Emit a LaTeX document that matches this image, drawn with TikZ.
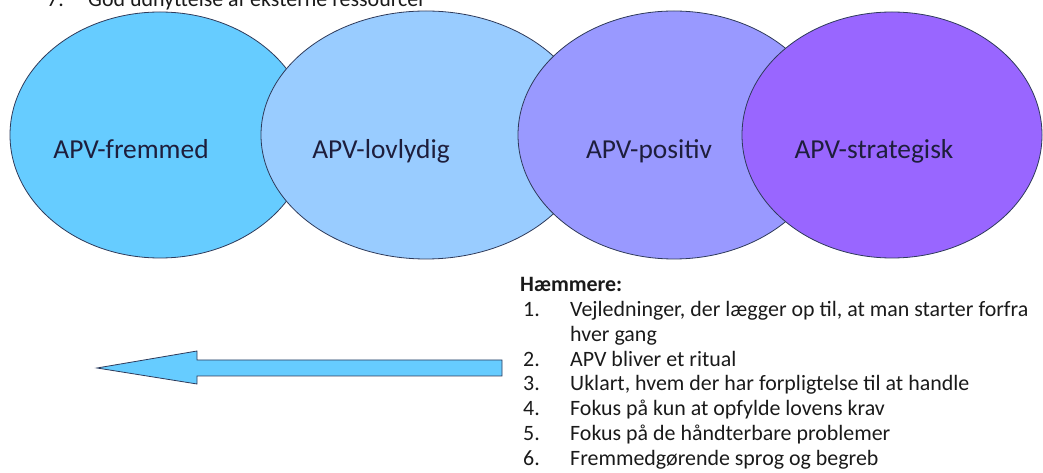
\documentclass[tikz,border=0pt]{standalone}
\usepackage{fontspec}
\setmainfont{Carlito}
\usetikzlibrary{shapes.geometric}
\definecolor{c1}{HTML}{66CCFF}
\definecolor{c2}{HTML}{99CCFF}
\definecolor{c3}{HTML}{9999FF}
\definecolor{c4}{HTML}{9966FF}
\definecolor{edgecol}{HTML}{2E3A5A}
\definecolor{lbltext}{HTML}{1E1E3C}
\definecolor{listtext}{HTML}{1A1A1A}
\begin{document}
\begin{tikzpicture}[x=1bp,y=-1bp,
  oval/.style={ellipse, draw=edgecol, line width=0.8bp, inner sep=0pt},
  lbl/.style={anchor=base, font=\fontsize{27.5}{32}\selectfont, text=lbltext, inner sep=0pt},
  item/.style={anchor=base west, font=\fontsize{22}{26}\selectfont, inner sep=0pt, text=listtext},
  arrowshape/.style={fill=c1, draw=edgecol, line width=0.8bp, line join=miter}
  ]
\useasboundingbox (0,0) rectangle (1043,473);
\clip (0,0) rectangle (1043,473);

% top (cut-off) line
\node[item] (t7) at (47,7) {7.};
\node[item] (t7txt) at (88,7) {God udnyttelse af eksterne ressourcer};

% ellipses
\node[oval, fill=c1, minimum width=300bp, minimum height=246bp] (e1) at (160,135) {};
\node[oval, fill=c2, minimum width=330bp, minimum height=248bp] (e2) at (426,135) {};
\node[oval, fill=c3, minimum width=312bp, minimum height=248bp] (e3) at (674,135) {};
\node[oval, fill=c4, minimum width=300bp, minimum height=246bp] (e4) at (892,135) {};

\node[lbl] (l1) at (131,159) {APV-fremmed};
\node[lbl] (l2) at (381,159) {APV-lovlydig};
\node[lbl] (l3) at (649,159) {APV-positiv};
\node[lbl] (l4) at (874,159) {APV-strategisk};

% arrow
\draw[arrowshape] (97,368) -- (197,351) -- (197,360) -- (502,360) -- (502,376) -- (197,376) -- (197,384) -- cycle;

% list
\node[item, font=\fontsize{22}{26}\selectfont\bfseries] (h) at (520,292) {Hæmmere:};
\node[item] (n1) at (523,316.7) {1.};
\node[item] (i1) at (570,316.7) {Vejledninger, der lægger op til, at man starter forfra};
\node[item] (i1b) at (570,341.4) {hver gang};
\node[item] (n2) at (523,366.1) {2.};
\node[item] (i2) at (570,366.1) {APV bliver et ritual};
\node[item] (n3) at (523,390.8) {3.};
\node[item] (i3) at (570,390.8) {Uklart, hvem der har forpligtelse til at handle};
\node[item] (n4) at (523,415.5) {4.};
\node[item] (i4) at (570,415.5) {Fokus på kun at opfylde lovens krav};
\node[item] (n5) at (523,440.2) {5.};
\node[item] (i5) at (570,440.2) {Fokus på de håndterbare problemer};
\node[item] (n6) at (523,465) {6.};
\node[item] (i6) at (570,465) {Fremmedgørende sprog og begreb};
\end{tikzpicture}
\end{document}
